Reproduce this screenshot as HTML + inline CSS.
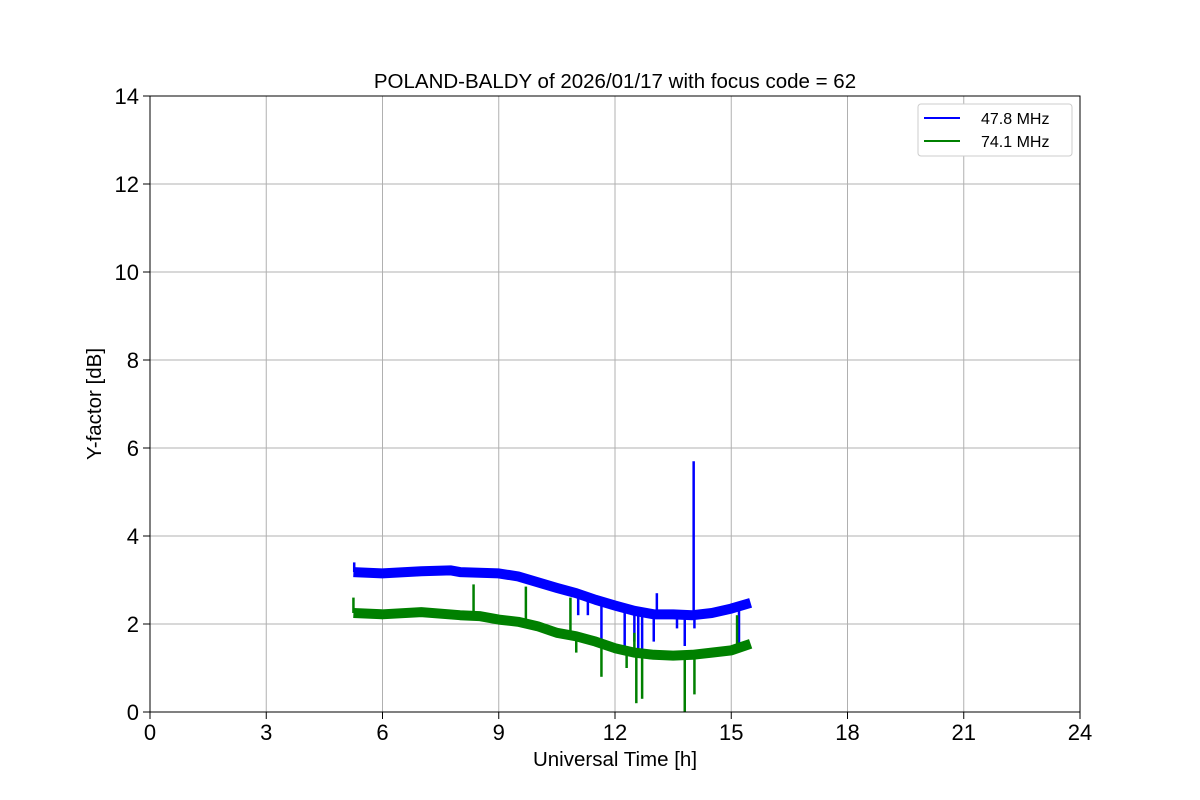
<!DOCTYPE html>
<html><head><meta charset="utf-8"><style>
html,body{margin:0;padding:0;background:#fff;}
svg{display:block;font-family:"Liberation Sans","DejaVu Sans",sans-serif;}
</style></head><body>
<svg id="chart" width="1200" height="800">
<rect width="1200" height="800" fill="#fff"/>
<g id="grid"></g><g id="series"></g><g id="axes"></g>
<text x="615" y="88" text-anchor="middle" font-size="20.5">POLAND-BALDY of 2026/01/17 with focus code = 62</text>
<text x="615" y="766" text-anchor="middle" font-size="20.5">Universal Time [h]</text>
<text transform="translate(101,404) rotate(-90)" text-anchor="middle" font-size="20.5">Y-factor [dB]</text>
<g>
<rect x="918" y="104" width="154" height="52" rx="3" fill="#fff" stroke="#ccc"/>
<line x1="924" y1="118" x2="960" y2="118" stroke="#0000ff" stroke-width="2"/>
<text x="981" y="124" font-size="16">47.8 MHz</text>
<line x1="924" y1="141" x2="960" y2="141" stroke="#008000" stroke-width="2"/>
<text x="981" y="147" font-size="16">74.1 MHz</text>
</g>
</svg>
<script>
const xTicks=[0,3,6,9,12,15,18,21,24];
const yTicks=[0,2,4,6,8,10,12,14];
const blueT=[5.25,6,7,7.75,8,9,9.5,10,10.5,11,11.5,12,12.5,13,13.5,14,14.5,15,15.5];
const blueV=[3.18,3.15,3.2,3.22,3.18,3.15,3.08,2.95,2.82,2.7,2.55,2.42,2.3,2.22,2.22,2.2,2.25,2.35,2.48];
const greenT=[5.25,6,7,8,8.5,9,9.5,10,10.5,11,11.5,12,12.5,13,13.5,14,14.5,15,15.5];
const greenV=[2.25,2.22,2.27,2.2,2.18,2.1,2.05,1.95,1.8,1.72,1.6,1.45,1.35,1.3,1.28,1.3,1.35,1.4,1.55];
const blueSpikeT=[14.03,13.08,5.27,11.65,12.25,12.5,12.6,12.7,13.0,13.6,13.8,14.05,15.2,11.05,11.3];
const blueSpikeV=[5.7,2.7,3.4,1.65,1.5,1.6,1.4,1.4,1.6,1.9,1.5,1.9,1.5,2.2,2.2];
const greenSpikeT=[8.35,9.7,10.85,15.15,5.25,11.65,12.55,12.7,13.8,14.05,12.3,11.0,12.9,12.5];
const greenSpikeV=[2.9,2.85,2.6,2.2,2.6,0.8,0.2,0.3,0,0.4,1.0,1.35,1.2,1.8];
const X=t=>150+t*(930/24), Y=v=>712-v*44;
const NS='http://www.w3.org/2000/svg';
function mk(tag,at,par){const e=document.createElementNS(NS,tag);for(const k in at)e.setAttribute(k,at[k]);document.getElementById(par).appendChild(e);return e;}
xTicks.forEach(t=>{
 const g=mk('line',{x1:X(t),x2:X(t),y1:96,y2:712,stroke:'#b0b0b0','stroke-width':1},'grid');
 
 
 const tk=mk('line',{x1:X(t),x2:X(t),y1:712,y2:719,stroke:'#000'},'axes');
 
 
 const l=mk('text',{x:X(t),y:740,'text-anchor':'middle','font-size':22},'axes');l.textContent=t;
 
 
});
yTicks.forEach(v=>{
 const g=mk('line',{x1:150,x2:1080,y1:Y(v),y2:Y(v),stroke:'#b0b0b0','stroke-width':1},'grid');
 
 
 const tk=mk('line',{x1:143,x2:150,y1:Y(v),y2:Y(v),stroke:'#000'},'axes');
 
 
 const l=mk('text',{x:139,y:Y(v)+8,'text-anchor':'end','font-size':22},'axes');l.textContent=v;
 
 
});
const fr=mk('rect',{x:150,y:96,width:930,height:616,fill:'none',stroke:'#000','stroke-width':1},'axes');


function series(T,V,ST,SV,col,name){
 const d=T.map((t,i)=>(i?'L':'M')+X(t)+','+Y(V[i])).join('');
 const p=mk('path',{d:d,fill:'none',stroke:col,'stroke-width':10,'stroke-linejoin':'round','stroke-linecap':'butt'},'series');
 
 
 ST.forEach((t,i)=>{
  let j=0;while(j<T.length-2&&T[j+1]<t)j++;
  const f=Math.max(0,Math.min(1,(t-T[j])/(T[j+1]-T[j])));const base=V[j]+(V[j+1]-V[j])*f;
  const s=mk('line',{x1:X(t),x2:X(t),y1:Y(base),y2:Y(SV[i]),stroke:col,'stroke-width':2.5},'series');
  
  
 });
}
series(blueT,blueV,blueSpikeT,blueSpikeV,'#0000ff','series-47-8-mhz');
series(greenT,greenV,greenSpikeT,greenSpikeV,'#008000','series-74-1-mhz');
</script>
</body></html>
